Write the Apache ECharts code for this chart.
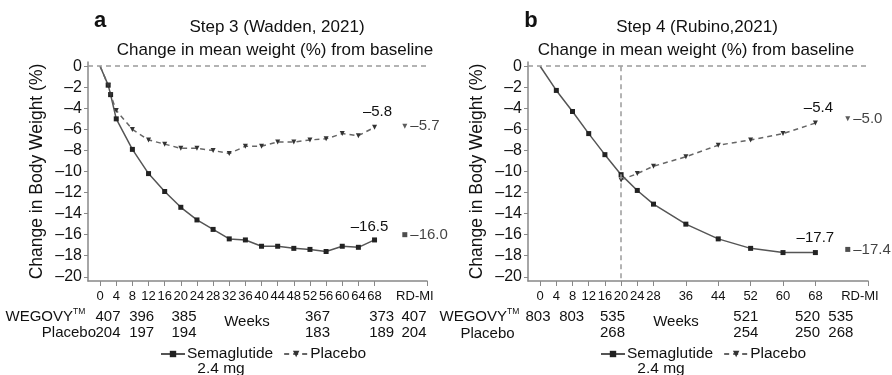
<!DOCTYPE html>
<html><head><meta charset="utf-8">
<script src="https://cdn.jsdelivr.net/npm/echarts@6/dist/echarts.min.js"></script>
<style>html,body{margin:0;padding:0;background:#fff}#c{width:892px;height:375px}</style>
</head><body><div id="c"></div>
<script>
// ---------- DATA ----------
// Panel a: Step 3 (Wadden, 2021)
const weeksA_sema = [0, 2, 2.6, 4, 8, 12, 16, 20, 24, 28, 32, 36, 40, 44, 48, 52, 56, 60, 64, 68];
const semaA       = [0, -1.8, -2.7, -5.0, -7.9, -10.2, -11.9, -13.4, -14.6, -15.5, -16.4, -16.5, -17.1, -17.1, -17.3, -17.4, -17.6, -17.1, -17.2, -16.5];
const weeksA_plac = [0, 2, 2.6, 4, 8, 12, 16, 20, 24, 28, 32, 36, 40, 44, 48, 52, 56, 60, 64, 68];
const placA       = [0, -1.8, -2.7, -4.2, -6.0, -7.0, -7.4, -7.8, -7.8, -8.0, -8.3, -7.6, -7.6, -7.2, -7.2, -7.0, -6.9, -6.4, -6.6, -5.8];
const rdmiA_sema = -16.0, rdmiA_plac = -5.7;

// Panel b: Step 4 (Rubino, 2021)
const weeksB_sema = [0, 4, 8, 12, 16, 20, 24, 28, 36, 44, 52, 60, 68];
const semaB       = [0, -2.3, -4.3, -6.4, -8.4, -10.3, -11.8, -13.1, -15.0, -16.4, -17.3, -17.7, -17.7];
const weeksB_plac = [20, 24, 28, 36, 44, 52, 60, 68];
const placB       = [-10.8, -10.2, -9.5, -8.6, -7.5, -7.0, -6.4, -5.4];
const rdmiB_sema = -17.4, rdmiB_plac = -5.0;

// axis ticks / labels
const yTicks = [0, -2, -4, -6, -8, -10, -12, -14, -16, -18, -20];
const xLabelsA = [0, 4, 8, 12, 16, 20, 24, 28, 32, 36, 40, 44, 48, 52, 56, 60, 64, 68];
const xLabelsB = [0, 4, 8, 12, 16, 20, 24, 28, 36, 44, 52, 60, 68];
const rdmiLabel = 'RD-MI';

// patient counts
const nWegovyA = [407, 396, 385, 367, 373, 407];
const nPlaceboA = [204, 197, 194, 183, 189, 204];
const nWegovyB = [803, 803, 535, 521, 520, 535];
const nPlaceboB = [268, 254, 250, 268];

// ---------- LAYOUT ----------
const FONT = 'Liberation Sans, Arial, Helvetica, sans-serif';
const TXT = '#111';
const RDMI_X_A = 75.5, RDMI_X_B = 76, RDMI_LABEL_X = [78, 79];
const fmt = v => (v < 0 ? '\u2013' + Math.abs(v).toFixed(1) : v.toFixed(1));
const fmtTick = v => (v < 0 ? '\u2013' + Math.abs(v) : String(v));

function pairs(xs, ys, labelIdx, labelOpt) {
  return xs.map((x, i) => {
    const it = { value: [x, ys[i]] };
    if (x === 0) it.symbol = 'none';
    if (i === labelIdx) it.label = Object.assign({ show: true, formatter: p => fmt(p.value[1]), fontSize: 15, color: TXT, fontFamily: FONT }, labelOpt);
    return it;
  });
}

const lineSema = { color: '#555', width: 1.5 };
const linePlac = { color: '#666', width: 1.5, type: [5, 4] };
const semaItem = { color: '#222' };
const placItem = { color: '#333' };

function semaSeries(g, xs, ys, labelOpt, extraMark) {
  const ml = [{ yAxis: 0 }];
  if (extraMark) ml.push(extraMark);
  return {
    type: 'line', name: 'Semaglutide', xAxisIndex: g, yAxisIndex: g,
    data: pairs(xs, ys, xs.length - 1, labelOpt),
    symbol: 'rect', symbolSize: 5, showSymbol: true, itemStyle: semaItem, lineStyle: lineSema,
    z: 3, silent: true,
    markLine: { silent: true, symbol: 'none', label: { show: false }, lineStyle: { color: '#9a9a9a', type: [5, 4], width: 1.5 }, data: ml }
  };
}
function placSeries(g, xs, ys, labelOpt) {
  return {
    type: 'line', name: 'Placebo', xAxisIndex: g, yAxisIndex: g,
    data: pairs(xs, ys, xs.length - 1, labelOpt),
    symbol: 'triangle', symbolRotate: 180, symbolSize: 5, itemStyle: placItem, lineStyle: linePlac,
    z: 3, silent: true
  };
}
function rdmiSeries(g, name, x, y, item) {
  return {
    type: 'scatter', name: name, xAxisIndex: g, yAxisIndex: g, symbol: name === 'Semaglutide' ? 'rect' : 'triangle',
    symbolRotate: name === 'Semaglutide' ? 0 : 180, symbolSize: 5, itemStyle: item, silent: true,
    data: [{ value: [x, y], label: { show: true, position: 'right', distance: 3, formatter: p => fmt(p.value[1]), fontSize: 15, color: TXT, fontFamily: FONT } }]
  };
}

function xAxis(g, labels, tickVals, labX) {
  return {
    type: 'value', gridIndex: g, min: -3, max: 81,
    splitLine: { show: false },
    axisLine: { show: true, onZero: false, lineStyle: { color: '#888', width: 1.5 } },
    axisTick: { show: true, length: 5, customValues: tickVals, lineStyle: { color: '#888', width: 1 } },
    axisLabel: { customValues: labels.concat([labX]), formatter: v => (v === labX ? rdmiLabel : String(v)), fontSize: 13, color: TXT, fontFamily: FONT, margin: 9, hideOverlap: false }
  };
}
function yAxis(g) {
  return {
    type: 'value', gridIndex: g, min: -20.4, max: 0.4,
    splitLine: { show: false },
    axisLine: { show: true, onZero: false, lineStyle: { color: '#888', width: 1.5 } },
    axisTick: { show: true, length: 4, customValues: yTicks, lineStyle: { color: '#888' } },
    axisLabel: { customValues: yTicks, formatter: fmtTick, fontSize: 16, color: TXT, fontFamily: FONT, margin: 6 },
    name: 'Change in Body Weight (%)', nameLocation: 'middle', nameGap: 42,
    nameTextStyle: { fontSize: 17.5, color: TXT, fontFamily: FONT }
  };
}

const tickA = xLabelsA.concat([81]);
const tickB = xLabelsB.concat([81]);

const legendBase = {
  data: ['Semaglutide', 'Placebo'], itemWidth: 24, itemHeight: 8, itemGap: 10, selectedMode: false,
  textStyle: { fontSize: 15.5, color: TXT, fontFamily: FONT, padding: [0, 0, 0, -3] }, top: 341
};

function text(x, y, t, size, align, extra) {
  return { type: 'text', x: x, y: y, silent: true,
    style: Object.assign({ text: t, fontSize: size, fontFamily: FONT, fill: TXT, align: align || 'center', verticalAlign: 'middle' }, extra || {}) };
}

const posA = [108, 141.7, 184, 317.5, 381.7, 414];
const posB1 = [538, 571.7, 612.5, 745.8, 807.5, 840.8];
const posB2 = [612.5, 745.8, 807.5, 840.8];
const ROW1 = 316.5, ROW2 = 332.5;

const graphics = [
  text(100, 21, 'a', 22, 'center', { fontWeight: 'bold' }),
  text(531, 21, 'b', 22, 'center', { fontWeight: 'bold' }),
  text(277, 27, 'Step 3 (Wadden, 2021)', 17),
  text(275, 50, 'Change in mean weight (%) from baseline', 17),
  text(697, 27, 'Step 4 (Rubino,2021)', 17),
  text(696, 50, 'Change in mean weight (%) from baseline', 17),
  // panel a rows
  text(73, ROW1, 'WEGOVY', 15, 'right'),
  text(73, ROW1 - 5, 'TM', 8.5, 'left'),
  text(96, ROW2, 'Placebo', 15, 'right'),
  text(247, 321.7, 'Weeks', 15),
  text(221, 369, '2.4 mg', 15.5),
  // panel b rows
  text(507, ROW1, 'WEGOVY', 15, 'right'),
  text(507, ROW1 - 5, 'TM', 8.5, 'left'),
  text(487.5, 334, 'Placebo', 15),
  text(676, 321.7, 'Weeks', 15),
  text(661, 369, '2.4 mg', 15.5)
];
nWegovyA.forEach((n, i) => graphics.push(text(posA[i], ROW1, String(n), 15)));
nPlaceboA.forEach((n, i) => graphics.push(text(posA[i], ROW2, String(n), 15)));
nWegovyB.forEach((n, i) => graphics.push(text(posB1[i], ROW1, String(n), 15)));
nPlaceboB.forEach((n, i) => graphics.push(text(posB2[i], ROW2, String(n), 15)));

const option = {
  animation: false,
  backgroundColor: '#fff',
  textStyle: { fontFamily: FONT },
  grid: [
    { left: 88, top: 62, width: 339, height: 219 },
    { left: 528, top: 62, width: 340, height: 219 }
  ],
  xAxis: [xAxis(0, xLabelsA, tickA, RDMI_LABEL_X[0]), xAxis(1, xLabelsB, tickB, RDMI_LABEL_X[1])],
  yAxis: [yAxis(0), yAxis(1)],
  legend: [
    Object.assign({}, legendBase, { left: 155 }),
    Object.assign({}, legendBase, { left: 595 })
  ],
  series: [
    semaSeries(0, weeksA_sema, semaA, { position: 'top', distance: 3, offset: [-5, 0] }),
    placSeries(0, weeksA_plac, placA, { position: 'top', distance: 5, offset: [3, 0] }),
    rdmiSeries(0, 'Semaglutide', RDMI_X_A, rdmiA_sema, semaItem),
    rdmiSeries(0, 'Placebo', RDMI_X_A, rdmiA_plac, placItem),
    semaSeries(1, weeksB_sema, semaB, { position: 'top', distance: 5 },
      [{ coord: [20, 0] }, { coord: [20, -20.4] }]),
    placSeries(1, weeksB_plac, placB, { position: 'top', distance: 5, offset: [3, 0] }),
    rdmiSeries(1, 'Semaglutide', RDMI_X_B, rdmiB_sema, semaItem),
    rdmiSeries(1, 'Placebo', RDMI_X_B, rdmiB_plac, placItem)
  ],
  graphic: graphics
};

const chart = echarts.init(document.getElementById('c'), null, { renderer: 'canvas' });
chart.setOption(option);
</script>
</body></html>
